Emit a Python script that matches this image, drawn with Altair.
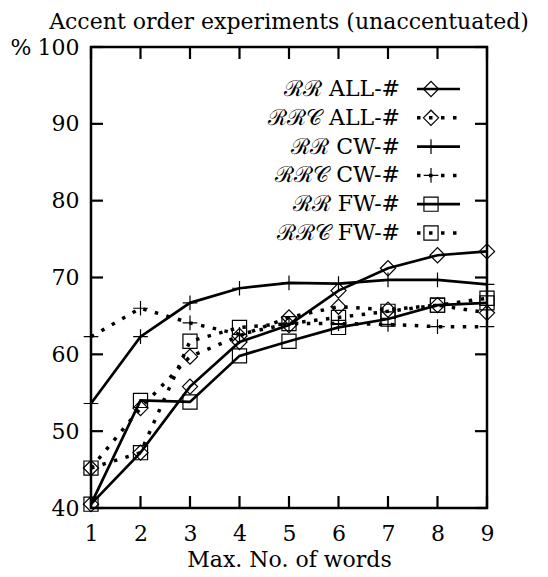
import altair as alt
import pandas as pd

# ---- data ----
x_vals = [1, 2, 3, 4, 5, 6, 7, 8, 9]
series_labels = ["ℛℛ ALL-#", "ℛℛ𝒞 ALL-#", "ℛℛ CW-#", "ℛℛ𝒞 CW-#", "ℛℛ FW-#", "ℛℛ𝒞 FW-#"]
series_style = ["solid", "dotted", "solid", "dotted", "solid", "dotted"]
series_marker = ["diamond", "diamond", "plus", "plus", "square", "square"]

rr_all = [40.5, 47.2, 55.8, 61.6, 63.8, 68.3, 71.2, 72.9, 73.4]
rrc_all = [45.2, 53.0, 59.7, 62.4, 64.8, 66.2, 65.8, 66.4, 65.4]
rr_cw = [53.6, 62.3, 66.7, 68.6, 69.3, 69.2, 69.7, 69.7, 69.1]
rrc_cw = [62.3, 66.0, 64.1, 62.6, 64.0, 64.0, 63.9, 63.6, 63.6]
rr_fw = [40.5, 54.0, 53.8, 59.8, 61.7, 63.5, 64.6, 66.4, 66.7]
rrc_fw = [45.2, 47.2, 61.7, 63.5, 64.0, 64.8, 65.6, 66.4, 67.3]
series_values = [rr_all, rrc_all, rr_cw, rrc_cw, rr_fw, rrc_fw]

x_ticks = [1, 2, 3, 4, 5, 6, 7, 8, 9]
y_ticks = [40, 50, 60, 70, 80, 90, 100]

FONT = "DejaVu Serif"
FS = 22
W, H = 396, 461

rows = []
for lab, sty, mk, vals in zip(series_labels, series_style, series_marker, series_values):
    for xv, yv in zip(x_vals, vals):
        rows.append({"series": lab, "style": sty, "marker": mk, "x": xv, "value": yv})
df = pd.DataFrame(rows)

leg = pd.DataFrame({
    "label": series_labels,
    "style": series_style,
    "marker": series_marker,
    "row": list(range(len(series_labels))),
})

xscale = alt.Scale(domain=[1, 9], nice=False, zero=False)
yscale = alt.Scale(domain=[40, 100], nice=False, zero=False)
shape_scale = alt.Scale(domain=["diamond", "plus", "square"],
                        range=["diamond", "M-1,0L1,0M0,-1L0,1", "square"])
size_scale = alt.Scale(domain=["diamond", "plus", "square"], range=[230, 200, 165])

base = alt.Chart(df)

xenc = alt.X("x:Q", scale=xscale,
             axis=alt.Axis(values=x_ticks, ticks=False, domain=False, grid=False,
                           labelFont=FONT, labelFontSize=FS, labelColor="black",
                           labelPadding=15, labelFlush=False,
                           title="Max. No. of words", titleFont=FONT, titleFontSize=FS,
                           titleFontWeight="normal", titleColor="black", titlePadding=5))
yenc = alt.Y("value:Q", scale=yscale,
             axis=alt.Axis(values=y_ticks, ticks=False, domain=False, grid=False,
                           labelFont=FONT, labelFontSize=FS, labelColor="black",
                           labelPadding=12, labelFlush=False,
                           title="%", titleFont=FONT, titleFontSize=FS,
                           titleFontWeight="normal", titleColor="black",
                           titleAngle=0, titleX=-81, titleY=0, titleAlign="left",
                           titleBaseline="middle"))

solid_lines = base.transform_filter(alt.datum.style == "solid").mark_line(
    color="black", strokeWidth=2.7).encode(x=xenc, y=yenc, detail="series:N")
dotted_lines = base.transform_filter(alt.datum.style == "dotted").mark_line(
    color="black", strokeWidth=3.5, strokeDash=[3.5, 8.5], strokeCap="butt").encode(
    x=alt.X("x:Q", scale=xscale), y=alt.Y("value:Q", scale=yscale), detail="series:N")
points = base.mark_point(filled=False, color="black", strokeWidth=1.2, opacity=1).encode(
    x=alt.X("x:Q", scale=xscale), y=alt.Y("value:Q", scale=yscale),
    shape=alt.Shape("marker:N", scale=shape_scale, legend=None),
    size=alt.Size("marker:N", scale=size_scale, legend=None))

xt = alt.Chart(pd.DataFrame({"t": x_ticks}))
yt = alt.Chart(pd.DataFrame({"t": y_ticks}))
TL = 12
tick_bottom = xt.mark_rule(color="black", strokeWidth=2.2).encode(
    x=alt.X("t:Q", scale=xscale), y=alt.value(H), y2=alt.value(H - TL))
tick_top = xt.mark_rule(color="black", strokeWidth=2.2).encode(
    x=alt.X("t:Q", scale=xscale), y=alt.value(0), y2=alt.value(TL))
tick_left = yt.mark_rule(color="black", strokeWidth=2.2).encode(
    y=alt.Y("t:Q", scale=yscale), x=alt.value(0), x2=alt.value(TL))
tick_right = yt.mark_rule(color="black", strokeWidth=2.2).encode(
    y=alt.Y("t:Q", scale=yscale), x=alt.value(W), x2=alt.value(W - TL))

main = alt.layer(solid_lines, dotted_lines, points,
                 tick_bottom, tick_top, tick_left, tick_right)

# ---- key (label on the left, sample on the right, as in the reference) ----
lb = alt.Chart(leg)
lrow = alt.Scale(domain=[0, 5], range=[42, 186])
key_text = lb.mark_text(align="right", baseline="middle", font=FONT, fontSize=FS,
                        color="black").encode(
    x=alt.value(309), y=alt.Y("row:Q", scale=lrow, axis=None), text="label:N")
key_solid = lb.transform_filter(alt.datum.style == "solid").mark_rule(
    color="black", strokeWidth=2.7).encode(
    x=alt.value(326), x2=alt.value(369), y=alt.Y("row:Q", scale=lrow, axis=None))
key_dotted = lb.transform_filter(alt.datum.style == "dotted").mark_rule(
    color="black", strokeWidth=3.5, strokeDash=[3.5, 8.5], strokeCap="butt").encode(
    x=alt.value(326), x2=alt.value(369), y=alt.Y("row:Q", scale=lrow, axis=None))
key_pts = lb.mark_point(filled=False, color="black", strokeWidth=1.2, opacity=1).encode(
    x=alt.value(340), y=alt.Y("row:Q", scale=lrow, axis=None),
    shape=alt.Shape("marker:N", scale=shape_scale, legend=None),
    size=alt.Size("marker:N", scale=size_scale, legend=None))
key = alt.layer(key_text, key_solid, key_dotted, key_pts)

chart = alt.layer(main, key).resolve_scale(y="independent").properties(
    width=W, height=H,
    title=alt.TitleParams("Accent order experiments (unaccentuated)", font=FONT,
                          fontSize=FS, fontWeight="normal", color="black",
                          anchor="middle", offset=2),
    autosize=alt.AutoSizeParams(type="none"),
    padding={"left": 83, "top": 39, "right": 53, "bottom": 69},
    background="white",
).configure_view(stroke="black", strokeWidth=2.5)

chart.save("out.html", embed_options={"renderer": "svg", "actions": False})
